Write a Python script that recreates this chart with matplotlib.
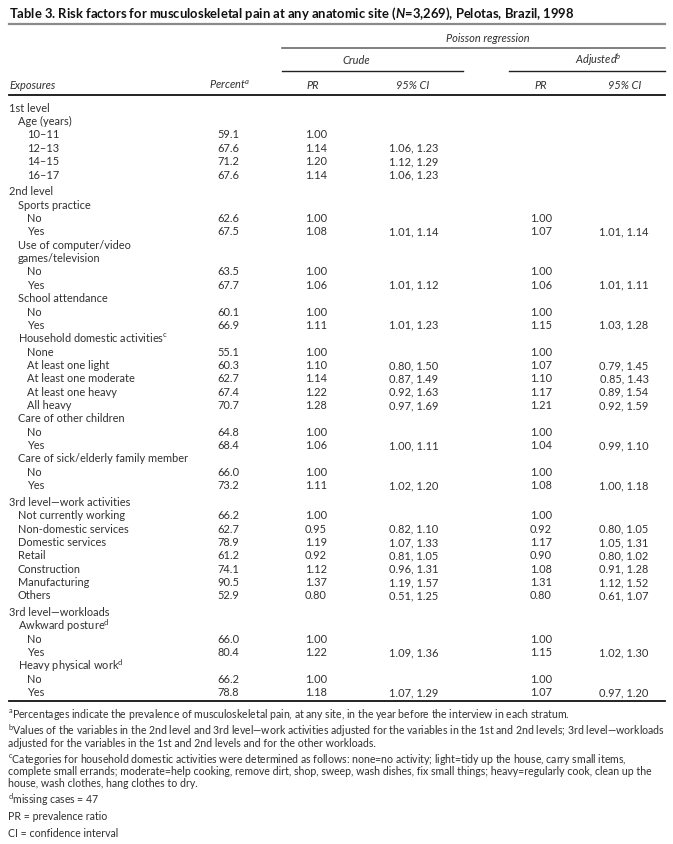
import matplotlib
matplotlib.use('Agg')
import matplotlib.pyplot as plt

# table content
labels = ["1st level", "Age (years)", "10–11", "12–13", "14–15", "16–17",
          "2nd level", "Sports practice", "No", "Yes",
          "Use of computer/video", "games/television", "No", "Yes",
          "School attendance", "No", "Yes",
          r"Household domestic activities$^{\mathregular{c}}$", "None", "At least one light",
          "At least one moderate", "At least one heavy", "All heavy",
          "Care of other children", "No", "Yes",
          "Care of sick/elderly family member", "No", "Yes",
          "3rd level—work activities", "Not currently working", "Non-domestic services",
          "Domestic services", "Retail", "Construction", "Manufacturing", "Others",
          "3rd level—workloads", r"Awkward posture$^{\mathregular{d}}$", "No", "Yes",
          r"Heavy physical work$^{\mathregular{d}}$", "No", "Yes"]
indent = [0, 1, 2, 2, 2, 2,
          0, 1, 2, 2,
          1, 1, 2, 2,
          1, 2, 2,
          1, 2, 2, 2, 2, 2,
          1, 2, 2,
          1, 2, 2,
          0, 1, 1, 1, 1, 1, 1, 1,
          0, 1, 2, 2,
          1, 2, 2]
percent = ["", "", "59.1", "67.6", "71.2", "67.6",
           "", "", "62.6", "67.5",
           "", "", "63.5", "67.7",
           "", "60.1", "66.9",
           "", "55.1", "60.3", "62.7", "67.4", "70.7",
           "", "64.8", "68.4",
           "", "66.0", "73.2",
           "", "66.2", "62.7", "78.9", "61.2", "74.1", "90.5", "52.9",
           "", "", "66.0", "80.4",
           "", "66.2", "78.8"]
crude_pr = ["", "", "1.00", "1.14", "1.20", "1.14",
            "", "", "1.00", "1.08",
            "", "", "1.00", "1.06",
            "", "1.00", "1.11",
            "", "1.00", "1.10", "1.14", "1.22", "1.28",
            "", "1.00", "1.06",
            "", "1.00", "1.11",
            "", "1.00", "0.95", "1.19", "0.92", "1.12", "1.37", "0.80",
            "", "", "1.00", "1.22",
            "", "1.00", "1.18"]
crude_ci = ["", "", "", "1.06, 1.23", "1.12, 1.29", "1.06, 1.23",
            "", "", "", "1.01, 1.14",
            "", "", "", "1.01, 1.12",
            "", "", "1.01, 1.23",
            "", "", "0.80, 1.50", "0.87, 1.49", "0.92, 1.63", "0.97, 1.69",
            "", "", "1.00, 1.11",
            "", "", "1.02, 1.20",
            "", "", "0.82, 1.10", "1.07, 1.33", "0.81, 1.05", "0.96, 1.31", "1.19, 1.57", "0.51, 1.25",
            "", "", "", "1.09, 1.36",
            "", "", "1.07, 1.29"]
adj_pr = ["", "", "", "", "", "",
          "", "", "1.00", "1.07",
          "", "", "1.00", "1.06",
          "", "1.00", "1.15",
          "", "1.00", "1.07", "1.10", "1.17", "1.21",
          "", "1.00", "1.04",
          "", "1.00", "1.08",
          "", "1.00", "0.92", "1.17", "0.90", "1.08", "1.31", "0.80",
          "", "", "1.00", "1.15",
          "", "1.00", "1.07"]
adj_ci = ["", "", "", "", "", "",
          "", "", "", "1.01, 1.14",
          "", "", "", "1.01, 1.11",
          "", "", "1.03, 1.28",
          "", "", "0.79, 1.45", "0.85, 1.43", "0.89, 1.54", "0.92, 1.59",
          "", "", "0.99, 1.10",
          "", "", "1.00, 1.18",
          "", "", "0.80, 1.05", "1.05, 1.31", "0.80, 1.02", "0.91, 1.28", "1.12, 1.52", "0.61, 1.07",
          "", "", "", "1.02, 1.30",
          "", "", "0.97, 1.20"]
section_starts = [6, 29, 37]

footnotes = [
    [r"$^{\mathregular{a}}$Percentages indicate the prevalence of musculoskeletal pain, at any site, in the year before the interview in each stratum."],
    [r"$^{\mathregular{b}}$Values of the variables in the 2nd level and 3rd level—work activities adjusted for the variables in the 1st and 2nd levels; 3rd level—workloads",
     "adjusted for the variables in the 1st and 2nd levels and for the other workloads."],
    [r"$^{\mathregular{c}}$Categories for household domestic activities were determined as follows: none=no activity; light=tidy up the house, carry small items,",
     "complete small errands; moderate=help cooking, remove dirt, shop, sweep, wash dishes, fix small things; heavy=regularly cook, clean up the",
     "house, wash clothes, hang clothes to dry."],
    [r"$^{\mathregular{d}}$missing cases = 47"],
    ["PR = prevalence ratio"],
    ["CI = confidence interval"],
]

title = r"Table 3. Risk factors for musculoskeletal pain at any anatomic site ($N$=3,269), Pelotas, Brazil, 1998"

FONT = 'Lato'
plt.rcParams['font.family'] = [FONT, 'DejaVu Sans']
plt.rcParams['mathtext.fontset'] = 'custom'
plt.rcParams['mathtext.rm'] = FONT
plt.rcParams['mathtext.it'] = FONT + ':italic:bold'
plt.rcParams['mathtext.bf'] = FONT + ':bold'

W, H = 673, 845
fig = plt.figure(figsize=(W / 100, H / 100), dpi=100)
ax = fig.add_axes([0, 0, 1, 1])
ax.set_xlim(0, W)
ax.set_ylim(H, 0)
ax.axis('off')

txt = '#303030'
fs = 7.9
base = 3.8   # baseline offset below the row centre
x_left, x_right = 9, 665
x_ind = [9, 18, 27]
x_pct, x_cpr, x_cci, x_apr, x_aci = 228, 316, 414, 541, 624

# title and header
ax.text(x_left, 14 + 4.2, title, fontsize=9.4, fontweight='bold', color='#111', va='baseline')
ax.plot([x_left, x_right], [25, 25], color='#8a8a8a', lw=1.6)
ax.text(488, 38 + base, "Poisson regression", fontsize=fs, style='italic', color=txt, ha='center', va='baseline')
ax.plot([282, x_right], [49, 49], color='#6a6a6a', lw=1.2)
ax.text(356, 60 + base, "Crude", fontsize=fs, style='italic', color=txt, ha='center', va='baseline')
ax.text(598, 60 + base, r"Adjusted$^{\mathregular{b}}$", fontsize=fs, style='italic', color=txt, ha='center', va='baseline')
ax.plot([282, 463], [72, 72], color='#222', lw=1.0)
ax.plot([509, x_right], [72, 72], color='#222', lw=1.0)
ax.text(x_left, 85 + base, "Exposures", fontsize=fs, style='italic', color=txt, va='baseline')
ax.text(250, 85 + base, r"Percent$^{\mathregular{a}}$", fontsize=fs, style='italic', color=txt, ha='right', va='baseline')
for xc, lab in [(313, "PR"), (413, "95% CI"), (541, "PR"), (625, "95% CI")]:
    ax.text(xc, 85 + base, lab, fontsize=fs, style='italic', color=txt, ha='center', va='baseline')
ax.plot([x_left, x_right], [96, 96], color='#111', lw=1.3)

# body rows
y0, step, gap = 108, 13.35, 3.5
y_last = y0
for i, lab in enumerate(labels):
    y = y0 + i * step + gap * sum(1 for s in section_starts if s <= i)
    y_last = y
    ax.text(x_ind[indent[i]], y + base, lab, fontsize=fs, color=txt, va='baseline')
    for xc, col in [(x_pct, percent), (x_cpr, crude_pr), (x_cci, crude_ci), (x_apr, adj_pr), (x_aci, adj_ci)]:
        if col[i]:
            ax.text(xc, y + base, col[i], fontsize=fs, color=txt, ha='center', va='baseline')

y_rule = y_last + 9
ax.plot([x_left, x_right], [y_rule, y_rule], color='#111', lw=1.3)

# footnotes
y = y_rule + 13
for block in footnotes:
    for line in block:
        ax.text(x_left - 1, y + 3.6, line, fontsize=7.6, color=txt, va='baseline')
        y += 12
    y += 4.5

fig.savefig('out.png', dpi=100)
